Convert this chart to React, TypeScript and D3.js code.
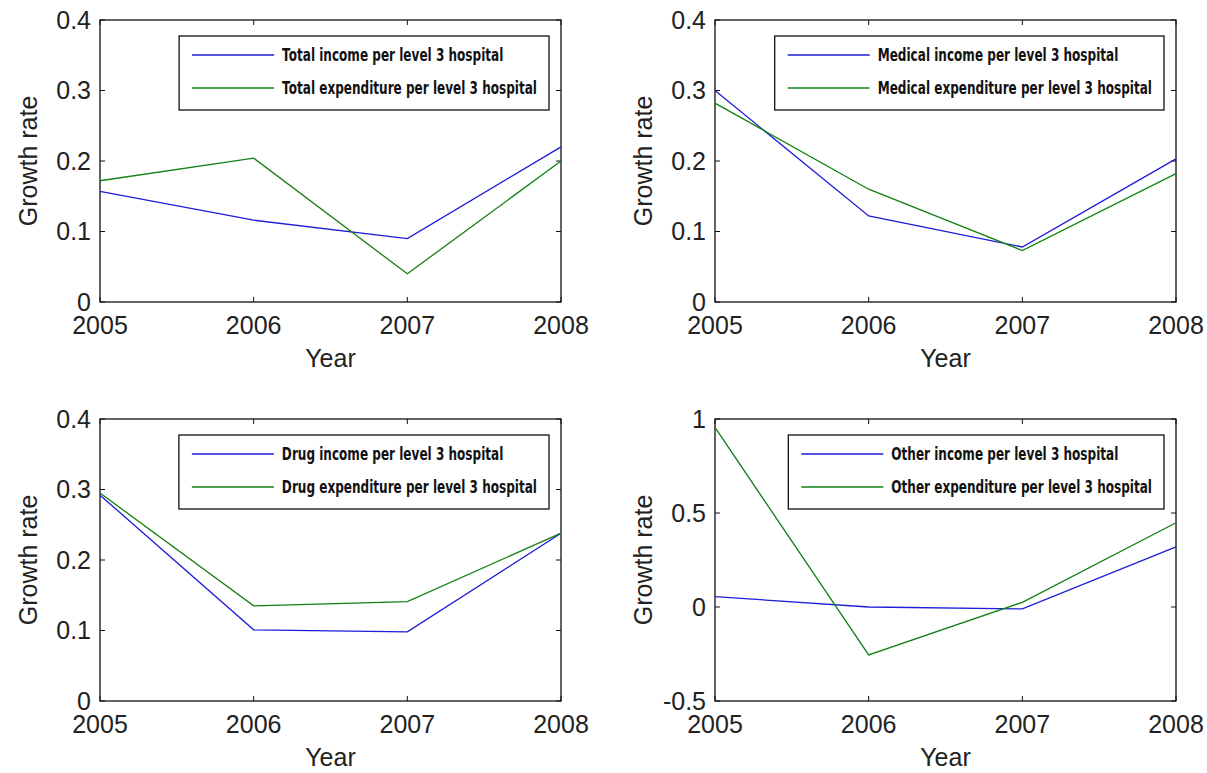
import React, { useLayoutEffect, useRef, useState } from 'react';
import * as d3 from 'd3';

// chart data
const years = [2005, 2006, 2007, 2008];
const totalIncome = [0.157, 0.116, 0.09, 0.22];
const totalExpenditure = [0.172, 0.204, 0.04, 0.2];
const medicalIncome = [0.3, 0.122, 0.078, 0.203];
const medicalExpenditure = [0.282, 0.16, 0.073, 0.182];
const drugIncome = [0.292, 0.101, 0.098, 0.238];
const drugExpenditure = [0.295, 0.135, 0.141, 0.238];
const otherIncome = [0.055, 0.0, -0.01, 0.32];
const otherExpenditure = [0.955, -0.255, 0.025, 0.448];

const rateTicks = [0, 0.1, 0.2, 0.3, 0.4];
const otherTicks = [-0.5, 0, 0.5, 1];

const blue = '#1c1cd8';
const green = '#128012';
const tickFont = "'Liberation Sans', Arial, sans-serif";
const legendFont = "'DejaVu Sans', sans-serif";
const squeeze = 0.67; // the legend font in the reference is a tall, narrow bitmap face

const W = 461;
const H = 282;

type PanelProps = {
  left: number;
  top: number;
  domain: [number, number];
  ticks: number[];
  income: number[];
  expenditure: number[];
  incomeLabel: string;
  expenditureLabel: string;
};

function Panel({ left, top, domain, ticks, income, expenditure, incomeLabel, expenditureLabel }: PanelProps) {
  const legendRef = useRef<SVGGElement>(null);
  const [textW, setTextW] = useState(380);

  const x = d3.scaleLinear().domain([2005, 2008]).range([0, W]);
  const y = d3.scaleLinear().domain(domain).range([H, 0]);
  const line = d3.line<number>().x((d, i) => x(years[i])).y(d => y(d));

  useLayoutEffect(() => {
    const texts = legendRef.current?.querySelectorAll('text');
    if (!texts) return;
    let m = 0;
    texts.forEach(t => { m = Math.max(m, (t as SVGTextElement).getComputedTextLength()); });
    setTextW(m);
  }, []);

  const boxW = textW * squeeze + 115;
  const boxX = W - 12 - boxW;
  const boxY = 16;
  const fmt = (v: number) => d3.format('~g')(v).replace('\u2212', '-');

  return (
    <g transform={`translate(${left},${top})`}>
      <rect x={0} y={0} width={W} height={H} fill="white" stroke="#111" strokeWidth={1.3} />
      {ticks.map(t => (
        <g key={t}>
          <line x1={0} x2={5} y1={y(t)} y2={y(t)} stroke="#111" />
          <line x1={W - 5} x2={W} y1={y(t)} y2={y(t)} stroke="#111" />
          <text x={-9} y={y(t)} dy="0.34em" textAnchor="end" fontFamily={tickFont} fontSize={25} fill="#222">{fmt(t)}</text>
        </g>
      ))}
      {years.map(yr => (
        <g key={yr}>
          <line x1={x(yr)} x2={x(yr)} y1={H} y2={H - 5} stroke="#111" />
          <line x1={x(yr)} x2={x(yr)} y1={0} y2={5} stroke="#111" />
          <text x={x(yr)} y={H + 32} textAnchor="middle" fontFamily={tickFont} fontSize={25} fill="#222">{yr}</text>
        </g>
      ))}
      <text x={W / 2} y={H + 65} textAnchor="middle" fontFamily={tickFont} fontSize={25} fill="#222">Year</text>
      <text transform={`translate(-63,${H / 2}) rotate(-90)`} textAnchor="middle" fontFamily={tickFont} fontSize={25} fill="#222">Growth rate</text>

      <path d={line(income) || ''} fill="none" stroke={blue} strokeWidth={1.3} />
      <path d={line(expenditure) || ''} fill="none" stroke={green} strokeWidth={1.3} />

      <g transform={`translate(${boxX},${boxY})`}>
        <rect x={0} y={0} width={boxW} height={74} fill="white" stroke="#111" strokeWidth={1.3} />
        <line x1={13} x2={95} y1={19} y2={19} stroke={blue} strokeWidth={1.3} />
        <line x1={13} x2={95} y1={52} y2={52} stroke={green} strokeWidth={1.3} />
        <g ref={legendRef} transform={`translate(103,0) scale(${squeeze},1)`}
          fontFamily={legendFont} fontWeight="bold" fontSize={18} fill="#111">
          <text x={0} y={19} dy="0.36em">{incomeLabel}</text>
          <text x={0} y={52} dy="0.36em">{expenditureLabel}</text>
        </g>
      </g>
    </g>
  );
}

export default function App() {
  return (
    <svg width={1207} height={773} style={{ position: 'absolute', left: 0, top: 0, background: 'white' }}>
      <rect width={1207} height={773} fill="white" />
      <Panel left={100} top={20} domain={[0, 0.4]} ticks={rateTicks}
        income={totalIncome} expenditure={totalExpenditure}
        incomeLabel="Total income per level 3 hospital" expenditureLabel="Total expenditure per level 3 hospital" />
      <Panel left={715} top={20} domain={[0, 0.4]} ticks={rateTicks}
        income={medicalIncome} expenditure={medicalExpenditure}
        incomeLabel="Medical income per level 3 hospital" expenditureLabel="Medical expenditure per level 3 hospital" />
      <Panel left={100} top={419} domain={[0, 0.4]} ticks={rateTicks}
        income={drugIncome} expenditure={drugExpenditure}
        incomeLabel="Drug income per level 3 hospital" expenditureLabel="Drug expenditure per level 3 hospital" />
      <Panel left={715} top={419} domain={[-0.5, 1]} ticks={otherTicks}
        income={otherIncome} expenditure={otherExpenditure}
        incomeLabel="Other income per level 3 hospital" expenditureLabel="Other expenditure per level 3 hospital" />
    </svg>
  );
}
